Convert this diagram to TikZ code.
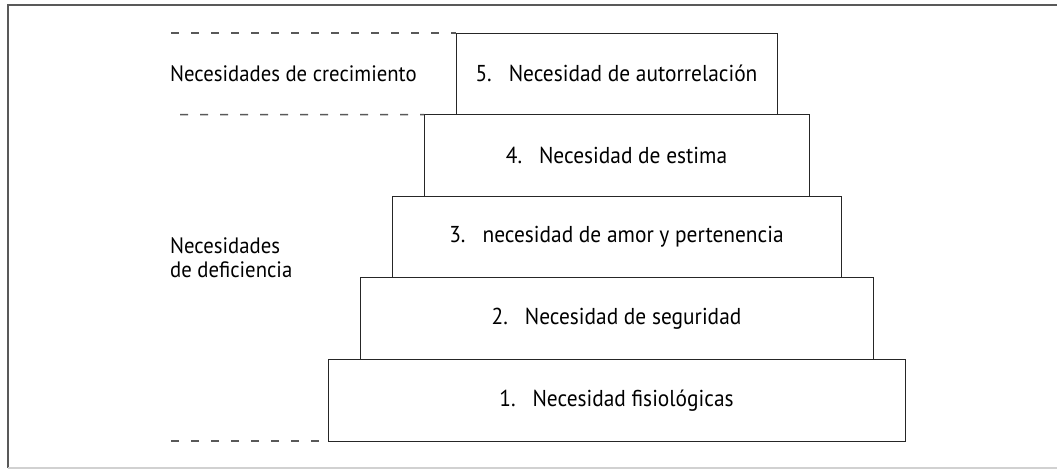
\documentclass[tikz,border=0pt]{standalone}
\usepackage{fontspec}
\setmainfont{PT Sans}[FakeStretch=0.93]
\begin{document}
\begin{tikzpicture}[x=1pt,y=-1pt,
  level/.style={draw=black!85,line width=1pt,inner sep=0pt,outer sep=0pt,minimum height=81.6pt,font=\fontsize{23}{24}\selectfont,text=black},
  dashline/.style={draw=black!65,line width=1.3pt,dash pattern=on 8pt off 12pt},
  lbl/.style={anchor=west,align=left,inner sep=0pt,font=\fontsize{22.3}{24}\selectfont,text=black}]
\useasboundingbox (0,0) rectangle (1057,469);
% frame
\draw[black!65,line width=2pt] (1057,5) -- (8,5) -- (8,468);
\draw[black!18,line width=1.5pt] (8,468) -- (1057,468);
% levels
\node[level,minimum width=321pt] (b5) at (616.5,73.8) {5.\hspace{17pt}Necesidad de autorrelación};
\node[level,minimum width=385pt] (b4) at (616.5,155.4) {4.\hspace{17pt}Necesidad de estima};
\node[level,minimum width=449pt] (b3) at (616.5,237.0) {3.\hspace{17pt}necesidad de amor y pertenencia};
\node[level,minimum width=513pt] (b2) at (616.5,318.6) {2.\hspace{17pt}Necesidad de seguridad};
\node[level,minimum width=577pt] (b1) at (616.5,400.2) {1.\hspace{17pt}Necesidad fisiológicas};
% dashed separators
\coordinate (d1) at (171,33);
\coordinate (d2) at (180,114.6);
\coordinate (d3) at (171,441);
\draw[dashline] (d1) -- (b5.north west);
\draw[dashline] (d2) -- (b4.north west);
\draw[dashline] (d3) -- (b1.south west);
% labels
\node[lbl] (l1) at (170,73.8) {Necesidades de crecimiento};
\node[lbl] (l2) at (170,258) {Necesidades\\de deficiencia};
\end{tikzpicture}
\end{document}
